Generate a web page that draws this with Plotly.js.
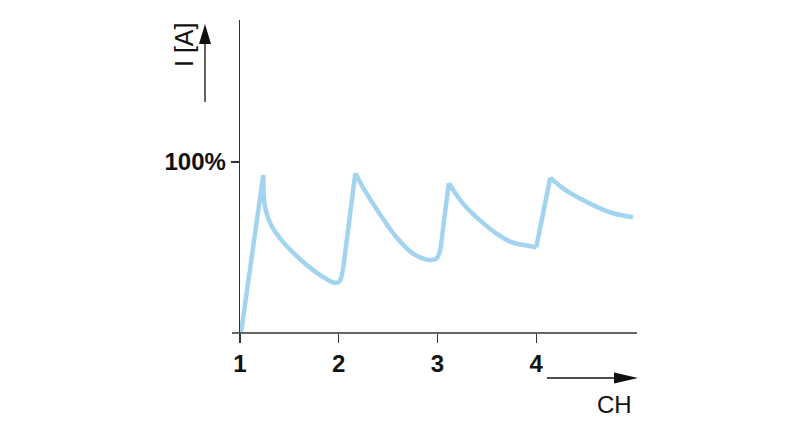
<!DOCTYPE html>
<html>
<head>
<meta charset="utf-8">
<script src="https://cdn.plot.ly/plotly-3.0.1.min.js"></script>
<style>html,body{margin:0;padding:0;background:#fff;}#chart{width:800px;height:437px;}</style>
</head>
<body>
<div id="chart"></div>
<script>
// Channel position (CH) and current in percent of nominal (I [A])
var chX = [1.01, 1.236, 1.253, 1.314, 1.449, 1.618, 1.786, 1.955, 2.006, 2.047, 2.168, 2.242, 2.411, 2.580, 2.749, 2.918, 2.992, 3.03, 3.114, 3.256, 3.425, 3.594, 3.763, 3.932, 4.000, 4.142, 4.270, 4.439, 4.608, 4.776, 4.979];
var currentPct = [0, 92.4, 73.9, 63.2, 52.4, 42.7, 34.9, 29.4, 30.0, 38.8, 93.4, 85.5, 70.0, 56.3, 46.6, 42.7, 43.7, 49.0, 87.5, 75.8, 66.1, 58.3, 52.8, 50.9, 50.1, 90.8, 84.6, 78.8, 73.9, 70.0, 67.7];
// index ranges of the curve: steep charging rises and smooth decays
var riseSegments = [[0, 1], [9, 10], [17, 18], [24, 25]];
var decaySegments = [[1, 9], [10, 17], [18, 24], [25, 30]];
var xTickVals = [1, 2, 3, 4];
var xTickText = ['1', '2', '3', '4'];
var yTickVals = [100];
var yTickText = ['100%'];

var L = 240, T = 20, W = 395, H = 313;
function px(x) { return (x - L) / W; }
function py(y) { return (T + H - y) / H; }

var lineCol = '#333333';
var curveCol = '#a3d4ef';
var shapes = [
  {type: 'line', xref: 'paper', yref: 'paper', x0: px(232), x1: px(637), y0: py(333), y1: py(333), line: {color: lineCol, width: 1.3}},
  {type: 'line', xref: 'paper', yref: 'paper', x0: px(205), x1: px(205), y0: py(102), y1: py(40), line: {color: '#111', width: 1.3}},
  {type: 'path', xref: 'paper', yref: 'paper',
   path: 'M ' + px(205) + ' ' + py(24) + ' L ' + px(199) + ' ' + py(44) + ' L ' + px(211) + ' ' + py(44) + ' Z',
   fillcolor: '#111', line: {color: '#111', width: 0}},
  {type: 'line', xref: 'paper', yref: 'paper', x0: px(547), x1: px(616), y0: py(378), y1: py(378), line: {color: '#111', width: 1.3}},
  {type: 'path', xref: 'paper', yref: 'paper',
   path: 'M ' + px(638) + ' ' + py(378) + ' L ' + px(614) + ' ' + py(372.5) + ' L ' + px(614) + ' ' + py(383.5) + ' Z',
   fillcolor: '#111', line: {color: '#111', width: 0}}
];

var annotations = [
  {xref: 'paper', yref: 'paper', x: px(184), y: py(45), text: 'I [A]', showarrow: false, textangle: -90,
   font: {family: 'Liberation Sans, Arial, sans-serif', size: 25, color: '#111'}, xanchor: 'center', yanchor: 'middle'},
  {xref: 'paper', yref: 'paper', x: px(614), y: py(404), text: 'CH', showarrow: false,
   font: {family: 'Liberation Sans, Arial, sans-serif', size: 24, color: '#111'}, xanchor: 'center', yanchor: 'middle'}
];

function seg(range, shape) {
  return {
    x: chX.slice(range[0], range[1] + 1), y: currentPct.slice(range[0], range[1] + 1),
    type: 'scatter', mode: 'lines',
    line: {color: curveCol, width: 4.5, shape: shape, smoothing: 0.9},
    cliponaxis: false, hoverinfo: 'skip'
  };
}
var traces = [];
decaySegments.forEach(function (r) { traces.push(seg(r, 'spline')); });
riseSegments.forEach(function (r) { traces.push(seg(r, 'linear')); });

var layout = {
  width: 800, height: 437,
  margin: {l: L, r: 800 - L - W, t: T, b: 437 - T - H, pad: 0},
  paper_bgcolor: '#ffffff', plot_bgcolor: '#ffffff',
  showlegend: false,
  xaxis: {
    range: [1, 5], showgrid: false, zeroline: false, showline: false,
    tickmode: 'array', tickvals: xTickVals, ticktext: xTickText,
    ticks: 'outside', ticklen: 9, tickwidth: 1.3, tickcolor: lineCol,
    tickfont: {family: 'Liberation Sans, Arial, sans-serif', size: 24, color: '#111', weight: 'bold'}
  },
  yaxis: {
    range: [0, 183], showgrid: false, zeroline: false,
    showline: true, linecolor: lineCol, linewidth: 1.3,
    tickmode: 'array', tickvals: yTickVals, ticktext: yTickText,
    ticks: 'outside', ticklen: 8, tickwidth: 1.3, tickcolor: lineCol,
    tickfont: {family: 'Liberation Sans, Arial, sans-serif', size: 24, color: '#111', weight: 'bold'}
  },
  shapes: shapes,
  annotations: annotations
};

Plotly.newPlot('chart', traces, layout, {staticPlot: true, displayModeBar: false});
</script>
</body>
</html>
